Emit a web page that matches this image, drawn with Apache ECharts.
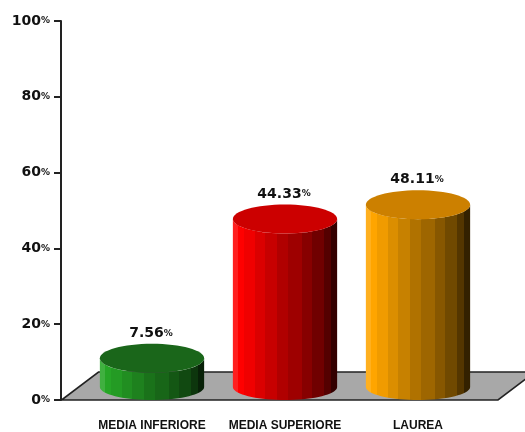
<!DOCTYPE html>
<html>
<head>
<meta charset="utf-8">
<style>html,body{margin:0;padding:0;background:#fff}#chart{width:525px;height:432px}</style>
<script src="https://cdn.jsdelivr.net/npm/echarts@6/dist/echarts.min.js"></script>
</head>
<body>
<div id="chart"></div>
<script>
// Education level shares, in percent
const categories = ['MEDIA INFERIORE', 'MEDIA SUPERIORE', 'LAUREA'];
const shares = [7.56, 44.33, 48.11];

// Cylinder colours: lit side and top face
const sideColors = [[38, 165, 38], [255, 0, 0], [255, 165, 0]];
const topColors = ['#1a661a', '#cc0000', '#cc8000'];

// Vertical shading bands across a cylinder: end position (0..1) and brightness
const bandEnds = [0.05, 0.11, 0.21, 0.31, 0.42, 0.53, 0.66, 0.76, 0.87, 0.94, 1];
const bandShades = [1.12, 1, 0.94, 0.86, 0.78, 0.69, 0.62, 0.53, 0.44, 0.33, 0.2];

const AXIS_COLOR = '#222';
const BASE_LIFT = 13;     // how far the cylinders stand behind the front edge of the floor
const RY_BASE = 13;       // vertical radius of the bottom ellipse
const RY_TOP = 14.5;      // vertical radius of the top ellipse
const RX_RATIO = 0.392;   // horizontal radius relative to the band width

function shade(rgb, k) {
  const c = rgb.map(v => Math.round(k > 1 ? v + (255 - v) * (k - 1) : v * k));
  return 'rgb(' + c.join(',') + ')';
}

function bandGradient(rgb) {
  const stops = [];
  let from = 0;
  bandEnds.forEach((end, i) => {
    const color = shade(rgb, bandShades[i]);
    stops.push({ offset: from, color: color }, { offset: end, color: color });
    from = end;
  });
  return new echarts.graphic.LinearGradient(0, 0, 1, 0, stops);
}

function renderCylinder(params, api) {
  const i = api.value(0);
  const value = api.value(1);
  const base = api.coord([i, 0]);
  const top = api.coord([i, value]);
  const rx = api.size([1, 0])[0] * RX_RATIO;
  const cx = base[0];
  const baseY = base[1] - BASE_LIFT;
  const topY = top[1] - BASE_LIFT;

  const body = [];
  for (let a = 0; a <= 180; a += 5) {
    const t = a * Math.PI / 180;
    body.push([cx + rx * Math.cos(t), baseY + RY_BASE * Math.sin(t)]);
  }
  for (let a = 180; a >= 0; a -= 5) {
    const t = a * Math.PI / 180;
    body.push([cx + rx * Math.cos(t), topY + RY_TOP * Math.sin(t)]);
  }

  return {
    type: 'group',
    children: [
      { type: 'polygon', shape: { points: body }, style: { fill: bandGradient(sideColors[i]) } },
      { type: 'ellipse', shape: { cx: cx, cy: topY, rx: rx, ry: RY_TOP }, style: { fill: topColors[i] } },
      {
        type: 'text',
        style: {
          x: cx - 1,
          y: topY - 25,
          text: '{n|' + value.toFixed(2) + '}{p|%}',
          align: 'center',
          verticalAlign: 'middle',
          rich: {
            n: { font: 'bold 14px "DejaVu Sans"', fill: '#111' },
            p: { font: 'bold 9px "DejaVu Sans"', fill: '#111' }
          }
        }
      }
    ]
  };
}

function renderFloor(params, api) {
  const y0 = api.coord([0, 0])[1];
  const sys = params.coordSys;
  const left = sys.x - 24;
  const right = sys.x + sys.width + 13.5;
  const depth = 28;
  const slant = 37;
  const pts = [[left, y0], [right, y0], [right + slant, y0 - depth], [left + slant, y0 - depth]];
  return {
    type: 'polygon',
    shape: { points: pts },
    style: { fill: '#a8a8a8', stroke: AXIS_COLOR, lineWidth: 1.6 }
  };
}

const chart = echarts.init(document.getElementById('chart'), null, { renderer: 'canvas' });
chart.setOption({
  animation: false,
  backgroundColor: '#fff',
  grid: { left: 85.5, top: 21, width: 399, height: 380 },
  xAxis: {
    type: 'category',
    data: categories,
    axisLine: { show: false },
    axisTick: { show: false },
    axisLabel: {
      margin: 20,
      interval: 0,
      fontFamily: '"Liberation Sans"',
      fontWeight: 'bold',
      fontSize: 12,
      color: '#111',
      verticalAlign: 'top'
    }
  },
  yAxis: {
    type: 'value',
    min: 0,
    max: 100,
    interval: 20,
    offset: 24.5,
    splitLine: { show: false },
    axisLine: { show: true, lineStyle: { color: AXIS_COLOR, width: 2 } },
    axisTick: { show: true, length: 7, lineStyle: { color: AXIS_COLOR, width: 2 } },
    axisLabel: {
      margin: 11,
      formatter: v => '{n|' + v + '}{p|%}',
      rich: {
        n: { fontFamily: '"DejaVu Sans"', fontWeight: 'bold', fontSize: 14, color: '#111' },
        p: { fontFamily: '"DejaVu Sans"', fontWeight: 'bold', fontSize: 9, color: '#111' }
      }
    }
  },
  series: [
    { type: 'custom', z: 1, silent: true, renderItem: renderFloor, data: [[0]], encode: { x: 0 } },
    {
      type: 'custom',
      z: 3,
      silent: true,
      renderItem: renderCylinder,
      data: shares.map((v, i) => [i, v]),
      encode: { x: 0, y: 1 }
    }
  ]
});
</script>
</body>
</html>
